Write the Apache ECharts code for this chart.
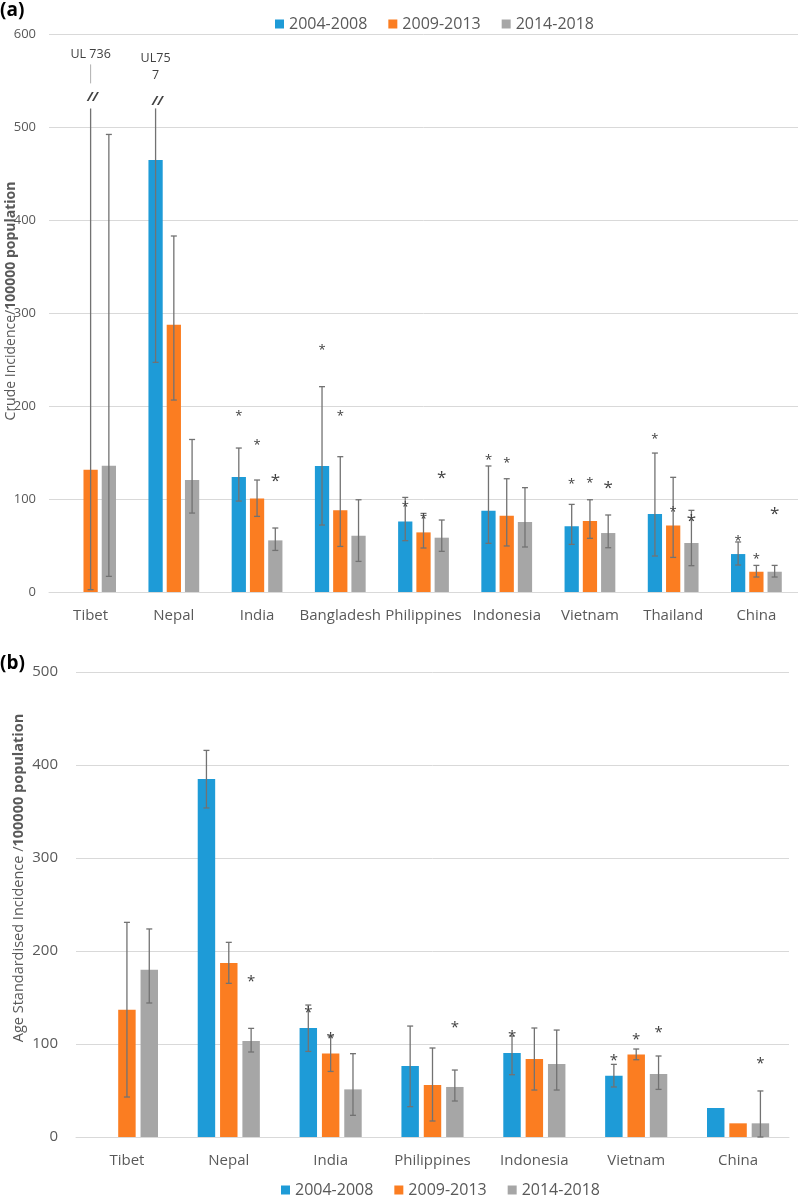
<!DOCTYPE html>
<html>
<head>
<meta charset="utf-8">
<script src="https://cdn.jsdelivr.net/npm/echarts@6/dist/echarts.min.js"></script>
<style>html,body{margin:0;padding:0;background:#fff;}#c{width:798px;height:1197px;}</style>
</head>
<body>
<div id="c"></div>
<script>
// ---------- DATA ----------
const seriesNames = ['2004-2008', '2009-2013', '2014-2018'];

// Panel (a): crude incidence
const categoriesA = ['Tibet', 'Nepal', 'India', 'Bangladesh', 'Philippines', 'Indonesia', 'Vietnam', 'Thailand', 'China'];
const crude2004 = [null, 464.5, 123.6, 135.5, 75.9, 87.4, 70.6, 83.8, 40.8];
const crude2009 = [131.5, 287.4, 100.6, 87.8, 64.1, 82.0, 76.3, 71.6, 21.8];
const crude2014 = [135.8, 120.4, 55.5, 60.5, 58.4, 75.3, 63.4, 52.7, 21.8];
const crudeLow2004 = [null, 246.9, 97.8, 72.0, 55.2, 52.3, 51.2, 38.7, 29.0];
const crudeHigh2004 = [null, 757, 154.8, 220.8, 101.7, 135.5, 94.2, 149.4, 53.8];
const crudeLow2009 = [2.5, 206.4, 81.3, 49.0, 47.3, 49.5, 57.7, 37.2, 16.1];
const crudeHigh2009 = [736, 382.8, 120.4, 145.5, 84.5, 121.8, 99.2, 123.3, 28.6];
const crudeLow2014 = [16.8, 84.9, 44.7, 32.9, 43.7, 48.4, 47.6, 28.3, 16.1];
const crudeHigh2014 = [492, 164.0, 68.8, 99.2, 77.4, 112.2, 82.8, 87.8, 28.6];
const crudeStar2004 = [null, null, 192.8, 263.7, 95.0, 145.0, 119.3, 167.7, 58.7];
const crudeStar2009 = [null, null, 162.0, 193.0, 82.0, 142.0, 120.4, 89.2, 39.0];
const crudeStar2014 = [null, null, 124.3, null, 127.0, null, 116.8, 81.3, 89.2];
const crudeUL2004 = [null, 'UL75\n7', null, null, null, null, null, null, null];
const crudeUL2009 = ['UL 736', null, null, null, null, null, null, null, null];
const crudeTicks = [0, 100, 200, 300, 400, 500, 600];

// Panel (b): age standardised incidence
const categoriesB = ['Tibet', 'Nepal', 'India', 'Philippines', 'Indonesia', 'Vietnam', 'China'];
const asr2004 = [null, 385.0, 117.2, 76.3, 90.3, 65.9, 31.2];
const asr2009 = [136.9, 187.1, 89.9, 55.9, 83.9, 88.8, 14.7];
const asr2014 = [179.9, 103.2, 51.2, 53.8, 78.5, 67.7, 14.7];
const asrLow2004 = [null, 353.8, 92.0, 32.6, 67.0, 53.8, null];
const asrHigh2004 = [null, 415.7, 141.9, 119.3, 108.6, 78.1, null];
const asrLow2009 = [43.0, 165.2, 70.5, 17.2, 50.5, 83.1, null];
const asrHigh2009 = [230.8, 209.3, 108.6, 95.7, 117.2, 94.6, null];
const asrLow2014 = [144.1, 91.4, 23.3, 38.7, 50.5, 51.2, 0];
const asrHigh2014 = [223.7, 116.8, 89.6, 72.0, 115.0, 87.1, 49.5];
const asrStar2004 = [null, null, 138.0, null, 111.8, 86.7, null];
const asrStar2009 = [null, null, 110.7, null, null, 108.9, null];
const asrStar2014 = [null, 171.3, null, 121.5, null, 116.1, 82.8];
const asrTicks = [0, 100, 200, 300, 400, 500];

// ---------- STYLE ----------
const COLORS = ['#1e9bd7', '#fb7d21', '#a6a6a6'];
const CAT_GAP = 0.39, BAR_GAP = 0.28;
const BREAK_AT = 520;
const ERR_COLOR = '#727272';
const TXT = '#595959';
const FONT = 'Open Sans';

function slot(api, sIdx) {
  const band = api.size([1, 0])[0];
  const bw = band * (1 - CAT_GAP) / (3 + 2 * BAR_GAP);
  return { off: (sIdx - 1) * bw * (1 + BAR_GAP), bw };
}

function barSeries(g, sIdx, values) {
  return {
    type: 'bar', name: seriesNames[sIdx], xAxisIndex: g, yAxisIndex: g,
    data: values, barCategoryGap: (CAT_GAP * 100) + '%', barGap: (BAR_GAP * 100) + '%',
    itemStyle: { color: COLORS[sIdx] }, silent: true
  };
}

function errSeries(g, sIdx, lows, highs, ulLabels) {
  const data = [];
  lows.forEach((l, i) => { if (l != null && highs[i] != null) data.push([i, l, highs[i]]); });
  return {
    type: 'custom', xAxisIndex: g, yAxisIndex: g, data, z: 5, silent: true,
    encode: { x: 0, y: [1, 2] },
    renderItem(params, api) {
      const cat = api.value(0), lo = api.value(1), hi = api.value(2);
      const s = slot(api, sIdx);
      const p0 = api.coord([cat, lo]);
      const brk = hi > BREAK_AT;
      const p1 = api.coord([cat, brk ? BREAK_AT : hi]);
      const x = p0[0] + s.off;
      const cw = 3;
      const ls = { stroke: ERR_COLOR, lineWidth: 1.3 };
      const ch = [
        { type: 'line', shape: { x1: x, y1: p0[1], x2: x, y2: p1[1] }, style: ls },
        { type: 'line', shape: { x1: x - cw, y1: p0[1], x2: x + cw, y2: p0[1] }, style: ls }
      ];
      if (!brk) {
        ch.push({ type: 'line', shape: { x1: x - cw, y1: p1[1], x2: x + cw, y2: p1[1] }, style: ls });
      } else {
        const label = ulLabels ? ulLabels[cat] : null;
        const multi = label && label.indexOf('\n') >= 0;
        ch.push({ type: 'text', x: x + 2, y: p1[1] - (multi ? 7 : 11),
          style: { text: '//', fontSize: 13, fontWeight: 'bold', fontStyle: 'italic', fill: '#404040', align: 'center', verticalAlign: 'middle', fontFamily: FONT } });
        if (label) {
          if (!multi) {
            ch.push({ type: 'line', shape: { x1: x, y1: p1[1] - 25, x2: x, y2: p1[1] - 44 }, style: { stroke: '#b0b0b0', lineWidth: 1 } });
          }
          ch.push({ type: 'text', x: x, y: p1[1] - (multi ? 41 : 54),
            style: { text: label, fontSize: 12.5, fill: '#404040', align: 'center', verticalAlign: 'middle', lineHeight: 17, fontFamily: FONT } });
        }
      }
      return { type: 'group', children: ch };
    }
  };
}

function starSeries(g, sIdx, stars, size) {
  const data = [];
  stars.forEach((v, i) => { if (v != null) data.push([i, v]); });
  return {
    type: 'custom', xAxisIndex: g, yAxisIndex: g, data, z: 6, silent: true,
    encode: { x: 0, y: 1 },
    renderItem(params, api) {
      const p = api.coord([api.value(0), api.value(1)]);
      const s = slot(api, sIdx);
      return { type: 'text', x: p[0] + s.off, y: p[1] + size * 0.28,
        style: { text: '*', fontSize: size, fill: '#404040', align: 'center', verticalAlign: 'middle', fontFamily: FONT } };
    }
  };
}

function xAxis(g, cats, size) {
  return {
    type: 'category', gridIndex: g, data: cats,
    axisLine: { lineStyle: { color: '#d9d9d9', width: 1 } }, axisTick: { show: false },
    axisLabel: { color: TXT, fontSize: size, margin: 16, fontFamily: FONT, interval: 0 }
  };
}
function yAxis(g, ticks, size, margin) {
  return {
    type: 'value', gridIndex: g, min: ticks[0], max: ticks[ticks.length - 1], interval: ticks[1] - ticks[0],
    axisLine: { show: false }, axisTick: { show: false },
    splitLine: { lineStyle: { color: '#d9d9d9', width: 1 } },
    axisLabel: { color: TXT, fontSize: size, margin: margin, fontFamily: FONT }
  };
}

const chart = echarts.init(document.getElementById('c'), null, { renderer: 'canvas' });
chart.setOption({
  animation: false,
  backgroundColor: '#fff',
  textStyle: { fontFamily: FONT },
  grid: [
    { left: 49, right: 0, top: 34, height: 558 },
    { left: 76, right: 9, top: 672, height: 465 }
  ],
  legend: [
    { data: seriesNames, left: 275, top: 16, padding: 0, icon: 'rect', itemWidth: 9, itemHeight: 9, itemGap: 21, selectedMode: false,
      textStyle: { color: TXT, fontSize: 16, fontFamily: FONT } },
    { data: seriesNames, left: 281, top: 1182, padding: 0, icon: 'rect', itemWidth: 9, itemHeight: 9, itemGap: 21, selectedMode: false,
      textStyle: { color: TXT, fontSize: 16, fontFamily: FONT } }
  ],
  xAxis: [xAxis(0, categoriesA, 15), xAxis(1, categoriesB, 15)],
  yAxis: [yAxis(0, crudeTicks, 13, 13), yAxis(1, asrTicks, 15, 18)],
  graphic: [
    { type: 'text', left: 0, top: 1, style: { text: '(a)', fontSize: 19, fontWeight: 'bold', fill: '#000', fontFamily: FONT } },
    { type: 'text', left: 0, top: 654, style: { text: '(b)', fontSize: 19, fontWeight: 'bold', fill: '#000', fontFamily: FONT } },
    { type: 'text', x: 11, y: 301, rotation: Math.PI / 2,
      style: { text: '{n|Crude Incidence/}{b|100000 population}', align: 'center', verticalAlign: 'middle',
        rich: { n: { fontSize: 14, fill: TXT, fontFamily: FONT }, b: { fontSize: 14, fontWeight: 'bold', fill: TXT, fontFamily: FONT } } } },
    { type: 'text', x: 19, y: 878, rotation: Math.PI / 2,
      style: { text: '{n|Age Standardised Incidence /}{b|100000 population}', align: 'center', verticalAlign: 'middle',
        rich: { n: { fontSize: 14.5, fill: TXT, fontFamily: FONT }, b: { fontSize: 14.5, fontWeight: 'bold', fill: TXT, fontFamily: FONT } } } }
  ],
  series: [
    barSeries(0, 0, crude2004), barSeries(0, 1, crude2009), barSeries(0, 2, crude2014),
    errSeries(0, 0, crudeLow2004, crudeHigh2004, crudeUL2004),
    errSeries(0, 1, crudeLow2009, crudeHigh2009, crudeUL2009),
    errSeries(0, 2, crudeLow2014, crudeHigh2014, null),
    starSeries(0, 0, crudeStar2004, 13), starSeries(0, 1, crudeStar2009, 13), starSeries(0, 2, crudeStar2014, 17),
    barSeries(1, 0, asr2004), barSeries(1, 1, asr2009), barSeries(1, 2, asr2014),
    errSeries(1, 0, asrLow2004, asrHigh2004, null),
    errSeries(1, 1, asrLow2009, asrHigh2009, null),
    errSeries(1, 2, asrLow2014, asrHigh2014, null),
    starSeries(1, 0, asrStar2004, 15), starSeries(1, 1, asrStar2009, 15), starSeries(1, 2, asrStar2014, 15)
  ]
});
</script>
</body>
</html>
